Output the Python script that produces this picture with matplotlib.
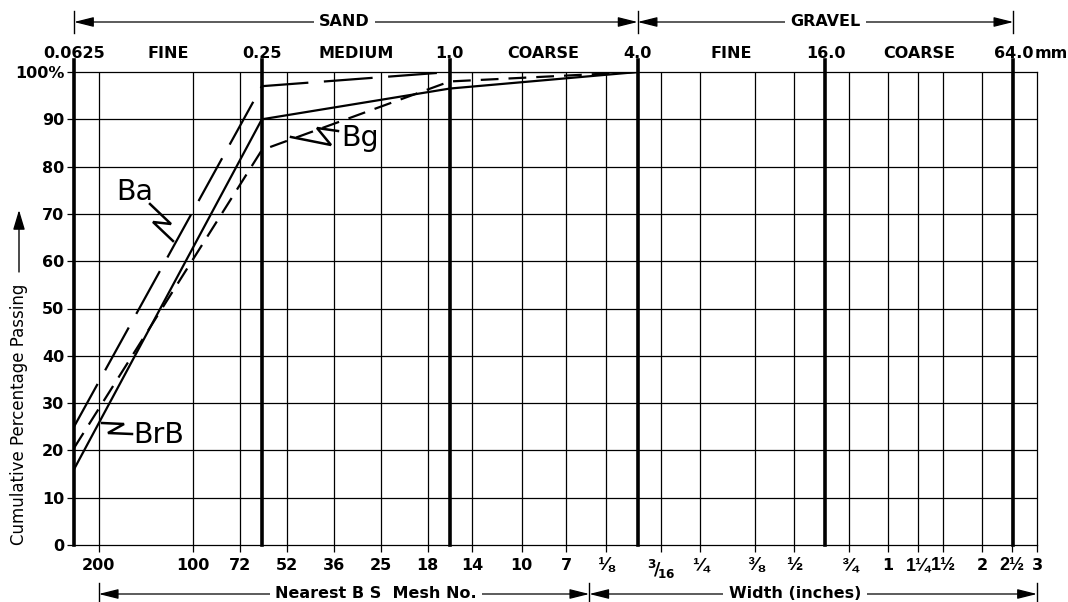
import matplotlib.pyplot as plt
from matplotlib.ticker import NullLocator

plt.rcParams['font.family'] = ['DejaVu Sans']

W, H = 1068, 602

# size classes along the top (mm)
class_mm = [0.0625, 0.25, 1.0, 4.0, 16.0, 64.0]
class_labels = ['0.0625', '0.25', '1.0', '4.0', '16.0', '64.0']
grade_mm = [0.125, 0.5, 2.0, 8.0, 32.0]
grade_labels = ['FINE', 'MEDIUM', 'COARSE', 'FINE', 'COARSE']

# bottom scale: nearest BS mesh numbers and widths in inches (placed at their mm size)
mesh_mm = [0.075, 0.150, 0.212, 0.300, 0.425, 0.600, 0.850, 1.18, 1.70, 2.36]
mesh_labels = ['200', '100', '72', '52', '36', '25', '18', '14', '10', '7']
inch_mm = [3.175, 4.7625, 6.35, 9.525, 12.7, 19.05, 25.4, 31.75, 38.1, 50.8, 63.5, 76.2]
inch_labels = ['1/8', '3/16', '1/4', '3/8', '1/2', '3/4',
               '1', '1 1/4', '1 1/2', '2', '2 1/2', '3']

# grading curves (cumulative % passing)
size_mm = [0.0625, 0.25, 1.0, 4.0]
ba = [25, 97, 100, 100]
bg = [20.5, 83.5, 98, 100]
brb = [16, 90, 96.5, 100]

pct_ticks = [0, 10, 20, 30, 40, 50, 60, 70, 80, 90, 100]
pct_labels = ['0', '10', '20', '30', '40', '50', '60', '70', '80', '90', '100%']

glyphs = {'1/8': '⅛', '1/4': '¼', '3/8': '⅜', '1/2': '½', '3/4': '¾',
          '3/16': r'$\mathbf{{}^{3}\!/\!_{16}}$'}


def frac_text(s):
    whole, _, frac = s.rpartition(' ')
    if '/' not in frac:
        return s
    return whole + glyphs[frac]


def fx(px):
    return px / W


def fy(py):
    return 1 - py / H


fig = plt.figure(figsize=(W / 100, H / 100), dpi=100)
ax = fig.add_axes([fx(74), fy(545), 963 / W, 473 / H])
ax.set_xscale('log', base=2)
ax.set_xlim(0.0625, 76.2)
ax.set_ylim(0, 100)

# grid
for m in mesh_mm + inch_mm[:-1]:
    ax.axvline(m, color='black', lw=0.9, zorder=1)
for p in pct_ticks[1:-1]:
    ax.axhline(p, color='black', lw=0.9, zorder=1)
for c in class_mm:
    ax.axvline(c, ymax=1.025, color='black', lw=2.6, clip_on=False, zorder=3)

# curves
ax.plot(size_mm, ba, color='black', lw=1.6, ls=(0, (22, 7)), zorder=4)
ax.plot(size_mm, bg, color='black', lw=1.6, ls=(0, (8, 4.5)), zorder=4)
ax.plot(size_mm, brb, color='black', lw=1.6, zorder=4)

# ticks
ax.set_xticks(mesh_mm + inch_mm,
              labels=mesh_labels + [frac_text(s) for s in inch_labels],
              fontsize=11.5, fontweight='bold')
ax.xaxis.set_minor_locator(NullLocator())
for lbl, raw in zip(ax.get_xticklabels()[len(mesh_labels):], inch_labels):
    if raw == '3/16':
        lbl.set_fontsize(12.5)
    elif '/' in raw:
        lbl.set_family(['Liberation Sans', 'DejaVu Sans'])
        lbl.set_fontsize(13 if ' ' in raw else 14)
ax.set_yticks(pct_ticks, labels=pct_labels, fontsize=11.5, fontweight='bold')
ax.tick_params(axis='both', length=5, width=0.9, color='black')
ax.tick_params(axis='x', pad=4)
ax.tick_params(axis='y', pad=2)
for s in ax.spines.values():
    s.set_linewidth(0.9)
ax.spines['left'].set_visible(False)

tx = ax.get_xaxis_transform()

# top size labels
for c, l in zip(class_mm, class_labels):
    ax.text(c, 1.03, l, transform=tx, ha='center', va='baseline',
            fontsize=11.5, fontweight='bold')
ax.annotate('mm', xy=(64, 1.03), xycoords=tx, xytext=(15, 0),
            textcoords='offset points', ha='left', va='baseline',
            fontsize=11.5, fontweight='bold')
for g, l in zip(grade_mm, grade_labels):
    ax.text(g, 1.03, l, transform=tx, ha='center', va='baseline',
            fontsize=11.5, fontweight='bold')


def span(x0, x1, y, label, xl):
    ax.annotate('', xy=(x0, y), xytext=(x1, y), xycoords=tx, textcoords=tx,
                arrowprops=dict(arrowstyle='<|-|>,head_length=1.0,head_width=0.25',
                                color='black', lw=0.9, shrinkA=0, shrinkB=0,
                                mutation_scale=12),
                annotation_clip=False)
    ax.text(xl, y, label, transform=tx, ha='center', va='center',
            fontsize=11.5, fontweight='bold', zorder=6,
            bbox=dict(fc='white', ec='none', pad=4))


def bar(x, y):
    ax.plot([x, x], [y - 0.024, y + 0.024], transform=tx, color='black',
            lw=1.0, clip_on=False)


y_top = (545 - 22) / 473
span(0.0625, 4.0, y_top, 'SAND', 0.46)
span(4.0, 64.0, y_top, 'GRAVEL', 16)
for x in [0.0625, 4.0, 64.0]:
    bar(x, y_top)

y_bot = (545 - 594) / 473
span(0.075, 2.8, y_bot, 'Nearest B S  Mesh No.', 0.58)
span(2.8, 76.2, y_bot, 'Width (inches)', 12.8)
for x in [0.075, 2.8, 76.2]:
    bar(x, y_bot)

# y axis label with upward arrow
fig.text(fx(19), fy(414), 'Cumulative Percentage Passing', rotation=90,
         ha='center', va='center', fontsize=12)
ax.annotate('', xy=(fx(19), fy(210)), xytext=(fx(19), fy(272)),
            xycoords='figure fraction', textcoords='figure fraction',
            arrowprops=dict(arrowstyle='-|>,head_length=1.0,head_width=0.3',
                            color='black', lw=1.0, shrinkA=0, shrinkB=0,
                            mutation_scale=12),
            annotation_clip=False)


# curve labels with zig-zag pointers (figure pixel positions)
def pointer(pts):
    ax.plot([fx(p[0]) for p in pts], [fy(p[1]) for p in pts],
            transform=fig.transFigure, color='black', lw=1.8, clip_on=False,
            solid_joinstyle='miter')


fig.text(fx(116), fy(200), 'Ba', ha='left', va='baseline', fontsize=20.5)
pointer([(150, 204), (171, 224), (153, 222), (173, 241)])

fig.text(fx(341), fy(146), 'Bg', ha='left', va='baseline', fontsize=20.5)
pointer([(338, 131), (317, 128), (331, 145), (291, 137)])

fig.text(fx(133), fy(443), 'BrB', ha='left', va='baseline', fontsize=20.5)
pointer([(102, 423), (124, 424), (108, 433), (132, 434)])

fig.savefig('out.png', dpi=100, facecolor='white')
